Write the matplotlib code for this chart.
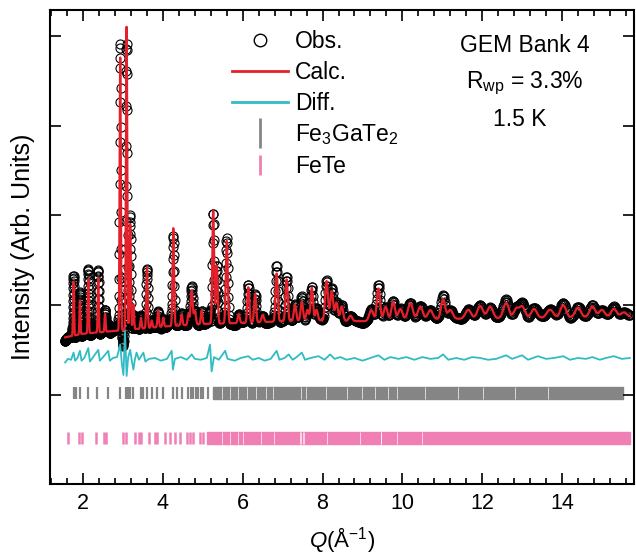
import numpy as np
import matplotlib.pyplot as plt
from matplotlib.lines import Line2D

plt.rcParams['font.family'] = ['Liberation Sans', 'DejaVu Sans']
plt.rcParams['mathtext.fontset'] = 'custom'
plt.rcParams['mathtext.rm'] = 'Liberation Sans'
plt.rcParams['mathtext.it'] = 'Liberation Sans:italic'

# background level (arb. units)
bg_q = [1.55, 2.0, 3.0, 4.0, 5.0, 6.0, 7.0, 8.0, 9.0, 10.0, 12.0, 14.0, 15.7]
bg_y = [1.64, 1.68, 1.72, 1.76, 1.79, 1.80, 1.82, 1.83, 1.82, 1.84, 1.85, 1.86, 1.87]

# peaks: position, height above background, width
peak_q = [1.76, 1.92, 2.13, 2.38, 2.55, 2.93, 3.09, 3.18, 3.26, 3.45, 3.60, 3.72, 3.88,
          4.01, 4.26, 4.47, 4.64, 4.72, 4.80, 4.97, 5.26, 5.35, 5.60, 5.90, 6.14, 6.31,
          6.50, 6.85, 7.10, 7.31, 7.48, 7.62, 7.73, 7.85, 8.10, 8.23, 8.35, 8.48, 8.70,
          9.22, 9.40, 9.58, 9.77, 9.95, 10.2, 10.45, 10.7, 11.02, 11.2, 11.65, 11.95,
          12.2, 12.6, 12.85, 13.0, 13.3, 13.7, 14.03, 14.4, 14.76, 15.0, 15.3, 15.55]
peak_h = [0.60, 0.38, 0.60, 0.60, 0.20, 3.05, 3.38, 1.18, 0.28, 0.12, 0.68, 0.08, 0.18,
          0.10, 1.10, 0.12, 0.12, 0.38, 0.15, 0.15, 1.27, 0.65, 0.92, 0.10, 0.40, 0.32,
          0.08, 0.54, 0.47, 0.18, 0.21, 0.12, 0.37, 0.12, 0.44, 0.33, 0.20, 0.16, 0.06,
          0.12, 0.36, 0.15, 0.20, 0.12, 0.18, 0.14, 0.10, 0.22, 0.10, 0.10, 0.14,
          0.13, 0.17, 0.10, 0.13, 0.10, 0.09, 0.14, 0.11, 0.12, 0.08, 0.09, 0.05]
peak_w = [0.012, 0.012, 0.013, 0.013, 0.013, 0.015, 0.016, 0.016, 0.016, 0.016, 0.017, 0.017, 0.018,
          0.018, 0.019, 0.02, 0.02, 0.025, 0.025, 0.02, 0.022, 0.022, 0.024, 0.025, 0.025, 0.025,
          0.03, 0.027, 0.028, 0.03, 0.03, 0.03, 0.03, 0.03, 0.035, 0.035, 0.035, 0.035, 0.04,
          0.05, 0.04, 0.045, 0.045, 0.05, 0.06, 0.06, 0.06, 0.05, 0.06, 0.07, 0.07,
          0.07, 0.07, 0.06, 0.07, 0.07, 0.08, 0.07, 0.07, 0.07, 0.07, 0.07, 0.07]

# difference curve (obs - calc)
diff_q = [1.55, 1.62, 1.70, 1.76, 1.80, 1.86, 1.92, 1.96, 2.03, 2.13, 2.17, 2.25, 2.38, 2.42,
          2.50, 2.63, 2.67, 2.75, 2.85, 2.93, 2.97, 3.01, 3.05, 3.09, 3.13, 3.18, 3.22, 3.26,
          3.30, 3.34, 3.40, 3.51, 3.56, 3.65, 3.80, 3.95, 4.10, 4.22, 4.25, 4.30, 4.45, 4.60,
          4.72, 4.80, 4.95, 5.10, 5.18, 5.22, 5.28, 5.40, 5.56, 5.62, 5.80, 5.95, 6.14, 6.25,
          6.40, 6.55, 6.70, 6.85, 6.92, 7.05, 7.15, 7.25, 7.35, 7.48, 7.56, 7.70, 7.90, 8.05,
          8.19, 8.30, 8.45, 8.60, 8.80, 9.00, 9.20, 9.40, 9.55, 9.70, 9.90, 10.1, 10.3, 10.5,
          10.7, 10.9, 11.02, 11.15, 11.35, 11.55, 11.75, 11.95, 12.15, 12.35, 12.6, 12.75,
          13.0, 13.15, 13.4, 13.6, 13.8, 14.03, 14.2, 14.4, 14.6, 14.76, 14.95, 15.1, 15.3,
          15.5, 15.7]
diff_v = [-0.04, 0.0, -0.01, 0.07, -0.02, 0.01, 0.09, -0.02, 0.01, 0.12, -0.03, 0.02, 0.10, -0.02,
          0.02, 0.09, -0.02, 0.01, 0.02, 0.16, -0.05, -0.18, 0.31, -0.19, 0.02, 0.10, -0.02, -0.12,
          0.0, 0.07, -0.01, 0.07, -0.03, 0.0, 0.01, -0.02, 0.0, 0.09, -0.12, 0.0, 0.02, -0.01,
          0.05, 0.0, -0.01, 0.01, 0.16, -0.14, 0.02, -0.01, 0.09, 0.0, -0.02, 0.01, 0.03, -0.01,
          0.01, -0.02, 0.0, 0.09, -0.01, 0.01, 0.05, -0.01, 0.02, 0.07, -0.01, 0.01, 0.03, -0.01,
          0.05, 0.0, 0.02, -0.01, 0.01, -0.02, 0.01, 0.04, -0.01, 0.02, 0.0, 0.02, -0.01, 0.02,
          0.0, 0.01, 0.05, -0.01, 0.01, -0.01, 0.02, 0.01, -0.01, 0.0, 0.04, 0.0,
          0.04, -0.01, 0.03, 0.0, 0.01, 0.03, -0.01, 0.01, 0.0, 0.02, -0.01, 0.01, 0.03,
          0.0, 0.01]
diff_offset = 1.40

# reflection markers
fgt_q = [1.77, 1.82, 1.92, 2.13, 2.34, 2.63, 2.93, 3.07, 3.12, 3.18, 3.26, 3.45, 3.51, 3.60,
         3.72, 3.85, 4.01, 4.26, 4.35, 4.47, 4.64, 4.70, 4.76, 4.83, 4.89, 4.95, 5.01, 5.13]
fgt_band = (5.25, 15.54)
fgt_gaps = [5.47, 5.68, 5.89, 6.10, 6.33, 6.58, 6.77, 7.47, 7.58, 8.08, 8.61, 8.98, 9.32,
            9.65, 9.86, 10.57, 11.40, 12.03, 12.83, 13.66]
fete_q = [1.62, 1.90, 1.98, 2.32, 2.53, 2.57, 3.01, 3.07, 3.29, 3.39, 3.45, 3.64, 3.79, 3.85,
          4.06, 4.18, 4.31, 4.43, 4.60, 4.68, 4.76, 4.93, 5.01]
fete_band = (5.10, 15.71)
fete_gaps = [5.48, 5.68, 5.88, 6.00, 6.46, 6.79, 7.44, 7.47, 7.50, 7.53, 8.11, 8.94, 9.46, 9.47,
             9.86, 10.49]

red = '#e6202a'
cyan = '#2fbcc5'
gray = '#858585'
pink = '#f07fb4'

q = np.geomspace(1.55, 15.7, 1800)
calc = np.interp(q, bg_q, bg_y)
for p, h, w in zip(peak_q, peak_h, peak_w):
    calc = calc + h * np.exp(-0.5 * ((q - p) / w) ** 2)
obs = calc + np.interp(q, diff_q, diff_v)

fig = plt.figure(figsize=(6.36, 5.6), dpi=100)
ax = fig.add_axes([0.0786, 0.135, 0.918, 0.847])

ax.plot(q, obs, 'o', ms=6.5, mfc='none', mec='black', mew=0.8, zorder=2)
ax.plot(q, calc, color=red, lw=1.6, zorder=3)
ax.plot(diff_q, np.array(diff_v) + diff_offset, color=cyan, lw=1.3, zorder=3)

ax.vlines(fgt_q, 0.95, 1.085, color=gray, lw=1.6)
ax.broken_barh([(fgt_band[0], fgt_band[1] - fgt_band[0])], (0.95, 0.135), color=gray)
ax.vlines(fgt_gaps, 0.95, 1.085, color='white', lw=0.6, alpha=0.8)
ax.vlines(fete_q, 0.455, 0.585, color=pink, lw=1.8)
ax.broken_barh([(fete_band[0], fete_band[1] - fete_band[0])], (0.455, 0.13), color=pink)
ax.vlines(fete_gaps, 0.455, 0.585, color='white', lw=0.6, alpha=0.8)

ax.set_xlim(1.17, 15.8)
ax.set_ylim(0, 5.29)
ax.set_xticks(np.arange(2, 15, 2))
ax.set_xticks(np.arange(1.2, 15.8, 0.4), minor=True)
ax.set_yticks(np.arange(0, 6, 1))
ax.set_yticklabels([])
ax.tick_params(which='both', direction='in', top=True, right=True, width=1.2)
ax.tick_params(which='major', length=8, labelsize=15.5, pad=6)
ax.tick_params(which='minor', length=4)
for s in ax.spines.values():
    s.set_linewidth(1.5)

ax.set_xlabel('$Q$(Å$^{-1}$)', fontsize=16, labelpad=8)
ax.set_ylabel('Intensity (Arb. Units)', fontsize=18, labelpad=5)

handles = [
    Line2D([], [], ls='none', marker='o', ms=9, mfc='none', mec='black', mew=1),
    Line2D([], [], color=red, lw=2),
    Line2D([], [], color=cyan, lw=2),
    Line2D([], [], ls='none', marker='|', ms=21, mew=2, color=gray),
    Line2D([], [], ls='none', marker='|', ms=15, mew=2, color=pink),
]
labels = ['Obs.', 'Calc.', 'Diff.', 'Fe$_3$GaTe$_2$', 'FeTe']
ax.legend(handles, labels, loc='upper left', bbox_to_anchor=(0.312, 0.957), frameon=False,
          handlelength=2.45, handletextpad=0.3, labelspacing=0.33, fontsize=16.5, borderpad=0,
          borderaxespad=0)

ax.text(0.813, 0.926, 'GEM Bank 4', transform=ax.transAxes, ha='center', va='center', fontsize=16.5)
ax.text(0.813, 0.845, 'R$_{\\mathrm{wp}}$ = 3.3%', transform=ax.transAxes, ha='center', va='center', fontsize=16.5)
ax.text(0.805, 0.769, '1.5 K', transform=ax.transAxes, ha='center', va='center', fontsize=16.5)

fig.savefig('out.png', dpi=100)
